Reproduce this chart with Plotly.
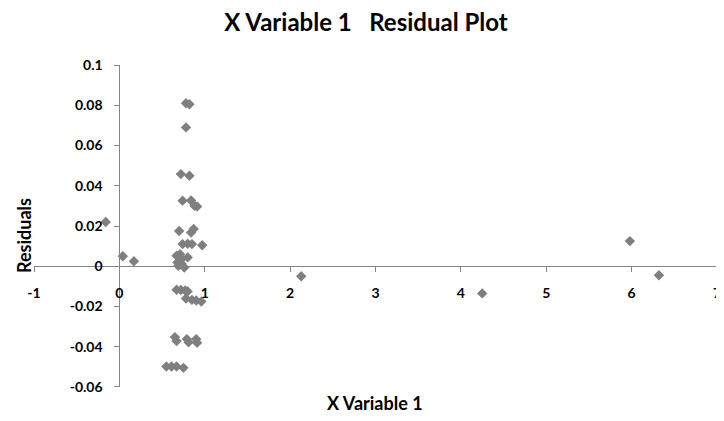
import plotly.graph_objects as go

x_var = [-0.16, 0.04, 0.17, 2.13, 4.25, 5.98, 6.32,
         0.78, 0.82, 0.78, 0.72, 0.82, 0.74, 0.84, 0.88, 0.91,
         0.70, 0.84, 0.87,
         0.74, 0.80, 0.85, 0.97,
         0.67, 0.71, 0.80, 0.73, 0.68, 0.73, 0.76, 0.69,
         0.67, 0.72, 0.77, 0.80,
         0.78, 0.85, 0.90, 0.96,
         0.65, 0.67, 0.79, 0.81, 0.90, 0.91,
         0.55, 0.61, 0.67, 0.75]
residuals = [0.022, 0.005, 0.0025, -0.005, -0.0135, 0.0125, -0.0045,
             0.081, 0.0805, 0.069, 0.0458, 0.045, 0.0326, 0.0327, 0.030, 0.0297,
             0.0175, 0.0168, 0.0185,
             0.011, 0.0112, 0.011, 0.0104,
             0.0052, 0.006, 0.0044, 0.0036, 0.0019, 0.0011, -0.0006, 0.0002,
             -0.0117, -0.0118, -0.012, -0.0125,
             -0.016, -0.0167, -0.017, -0.0175,
             -0.0352, -0.0372, -0.0362, -0.0378, -0.0362, -0.038,
             -0.0498, -0.0498, -0.0498, -0.0505]

x_ticks = [-1, 0, 1, 2, 3, 4, 5, 6, 7]
x_tick_labels = ["-1", "0", "1", "2", "3", "4", "5", "6", "7"]
y_ticks = [-0.06, -0.04, -0.02, 0, 0.02, 0.04, 0.06, 0.08, 0.1]
y_tick_labels = ["-0.06", "-0.04", "-0.02", "0", "0.02", "0.04", "0.06", "0.08", "0.1"]

title_text = "X Variable 1&nbsp;&nbsp;&nbsp;Residual Plot"
x_title = "X Variable 1"
y_title = "Residuals"

# page body has an 8px default margin; figure height kept small enough to avoid a scrollbar
W, H = 716, 405
L, R, T, B = 26, 7, 57, 26
x_range = [-1.0005, 7.0005]
y_range = [-0.06001, 0.10001]

axis_color = "#868686"
font_family = "Lato, 'Open Sans', sans-serif"

fig = go.Figure()
fig.add_trace(go.Scatter(
    x=x_var, y=residuals, mode="markers",
    marker=dict(symbol="diamond", size=8, color="#7f7f7f", line=dict(width=0)),
    showlegend=False, hoverinfo="skip", cliponaxis=False,
))

# axes cross at zero
x_pos = (0 - y_range[0]) / (y_range[1] - y_range[0])
y_pos = (0 - x_range[0]) / (x_range[1] - x_range[0])

pw, ph = W - L - R, H - T - B

fig.update_layout(
    width=W, height=H,
    margin=dict(l=L, r=R, t=T, b=B, autoexpand=False),
    paper_bgcolor="white", plot_bgcolor="white",
    title=dict(text=title_text, x=358 / W, xanchor="center", y=1 - 15 / H, yanchor="middle",
               font=dict(family=font_family, size=24, color="#000", weight="bold")),
    xaxis=dict(range=x_range, domain=[0, 1], anchor="free", position=x_pos,
               tickvals=x_ticks, ticktext=x_tick_labels, automargin=False,
               ticklabeloverflow="allow",
               showline=True, linecolor=axis_color, linewidth=1,
               ticks="outside", ticklen=5, tickcolor=axis_color, tickwidth=1,
               showgrid=False, zeroline=False, ticklabelstandoff=9,
               tickfont=dict(family=font_family, size=14, color="#000", weight="bold")),
    yaxis=dict(range=y_range, domain=[0, 1], anchor="free", position=y_pos,
               tickvals=y_ticks, ticktext=y_tick_labels, automargin=False,
               ticklabeloverflow="allow",
               showline=True, linecolor=axis_color, linewidth=1,
               ticks="outside", ticklen=5, tickcolor=axis_color, tickwidth=1,
               showgrid=False, zeroline=False, ticklabelstandoff=9,
               tickfont=dict(family=font_family, size=14, color="#000", weight="bold")),
    annotations=[
        dict(text=x_title, xref="paper", yref="paper", x=(367 - L) / pw,
             y=(H - B - 395) / ph, xanchor="center", yanchor="middle", showarrow=False,
             font=dict(family=font_family, size=18, color="#000", weight="bold")),
        dict(text=y_title, xref="paper", yref="paper", x=(16 - L) / pw,
             y=(H - B - 228) / ph, xanchor="center", yanchor="middle", showarrow=False,
             textangle=-90,
             font=dict(family=font_family, size=18, color="#000", weight="bold")),
    ],
)

fig.write_html("out.html")
